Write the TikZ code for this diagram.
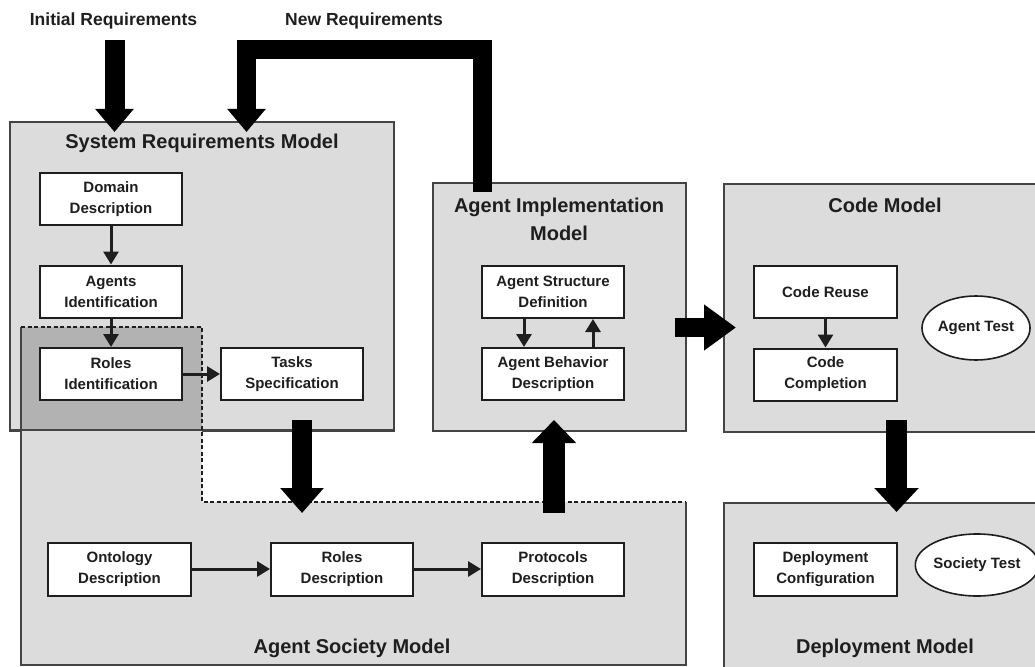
\documentclass[tikz,border=0pt]{standalone}
\usepackage{fontspec}
\setmainfont{Liberation Sans}
\usetikzlibrary{arrows.meta,shapes.geometric}
\definecolor{boxgray}{HTML}{DCDCDC}
\definecolor{overgray}{HTML}{B2B2B2}
\definecolor{edge}{HTML}{444444}
\definecolor{ink}{HTML}{1E1E1E}
\begin{document}
\begin{tikzpicture}[x=1pt,y=-1pt,
  container/.style={draw=edge, line width=2pt, fill=boxgray, inner sep=0pt},
  task/.style={draw=ink, line width=2pt, fill=white, minimum width=142pt, minimum height=52pt,
    inner sep=0pt, align=center, font=\bfseries\fontsize{15}{21}\selectfont, text=ink},
  test/.style={ellipse, draw=ink, line width=1.6pt, fill=white, minimum width=100pt,
    minimum height=64pt, inner sep=0pt, align=center, font=\bfseries\fontsize{15}{21}\selectfont, text=ink},
  title/.style={font=\bfseries\fontsize{20}{28}\selectfont, text=ink, align=center},
  toplabel/.style={font=\bfseries\fontsize{17.5}{21}\selectfont, text=ink},
  flow/.style={line width=3pt, draw=ink, -{Triangle[width=15pt,length=13pt]}},
  bigflow/.style={line width=20pt, draw=black, line join=miter, -{Triangle[width=40pt,length=24pt]}},
  dashedge/.style={draw=ink, line width=2.4pt, dash pattern=on 4pt off 2.5pt}
]
\useasboundingbox (0,0) rectangle (1035,666);

% ---- containers ----
\node[container, minimum width=384pt, minimum height=309pt] (srm) at (202,276.5) {};
\node[container, minimum width=253pt, minimum height=248pt] (aim) at (559.5,307) {};
\node[container, minimum width=330pt, minimum height=248pt, anchor=north west] (code) at (723,183) {};
\node[container, minimum width=330pt, minimum height=175pt, anchor=north west] (dep) at (723,502) {};

% agent society model (overlapping region)
\fill[boxgray] (21,327) -- (202,327) -- (202,502) -- (686,502) -- (686,665) -- (21,665) -- cycle;
\fill[overgray] (21,327) rectangle (202,430);
\draw[edge, line width=2pt] (10,430) -- (394,430);
\draw[edge, line width=2pt] (21,327) -- (21,665) -- (686,665) -- (686,502);
\draw[dashedge] (21,327) -- (202,327) -- (202,502) -- (686,502);

% ---- titles ----
\node[toplabel] (initreq) at (113.5,21) {Initial Requirements};
\node[toplabel] (newreq) at (364,21) {New Requirements};
\node[title] at (202,143) {System Requirements Model};
\node[title] at (559,219) {Agent Implementation\\Model};
\node[title] at (885,205) {Code Model};
\node[title] at (885,648) {Deployment Model};
\node[title] at (352,648) {Agent Society Model};

% ---- activities ----
\node[task] (dom) at (111,199) {Domain\\Description};
\node[task] (agi) at (111,291.5) {Agents\\Identification};
\node[task] (rli) at (111,374) {Roles\\Identification};
\node[task] (tsk) at (292,374) {Tasks\\Specification};
\node[task, minimum width=143pt, minimum height=53pt] (ont) at (119.5,569) {Ontology\\Description};
\node[task, minimum width=142pt, minimum height=53pt] (rld) at (342,569) {Roles\\Description};
\node[task, minimum width=142pt, minimum height=53pt] (prt) at (553,569) {Protocols\\Description};
\node[task] (asd) at (553,292) {Agent Structure\\Definition};
\node[task] (abd) at (553,374) {Agent Behavior\\Description};
\node[task, minimum width=143pt] (cre) at (825.5,292) {Code Reuse};
\node[task, minimum width=143pt] (cco) at (825.5,374.5) {Code\\Completion};
\node[task, minimum width=143pt, minimum height=53pt] (dcf) at (825.5,569.5) {Deployment\\Configuration};
\node[test] (atest) at (976,328) {Agent Test};
\node[test, minimum width=102pt, minimum height=62pt] (stest) at (977,565) {Society Test};

% ---- small connectors ----
\draw[flow] (dom.south) -- (agi.north);
\draw[flow] (agi.south) -- (rli.north);
\draw[flow] (rli.east) -- (tsk.west);
\draw[flow] (ont.east) -- (rld.west);
\draw[flow] (rld.east) -- (prt.west);
\draw[flow] (asd.south -| 524,0) -- (abd.north -| 524,0);
\draw[flow] (abd.north -| 593,0) -- (asd.south -| 593,0);
\draw[flow] (cre.south) -- (cco.north);

% ---- big connectors ----
\coordinate (ir0) at (114.5,40);
\coordinate (ir1) at (114.5,132);
\draw[bigflow, line width=20pt, -{Triangle[width=37pt,length=23pt]}] (ir0) -- (ir1);

\coordinate (nr0) at (482.5,192);
\coordinate (nr1) at (246.5,132);
\draw[bigflow, line width=19pt, -{Triangle[width=37pt,length=23pt]}] (nr0) -- (482.5,50) -- (246.5,50) -- (nr1);

\coordinate (ts0) at (302,420);
\coordinate (ts1) at (302,513);
\draw[bigflow, -{Triangle[width=42pt,length=25pt]}] (ts0) -- (ts1);

\coordinate (up0) at (554,513);
\coordinate (up1) at (554,420);
\draw[bigflow, line width=22pt, -{Triangle[width=43pt,length=23pt]}] (up0) -- (up1);

\coordinate (rt0) at (675,327.5);
\coordinate (rt1) at (736,327.5);
\draw[bigflow, line width=19pt, -{Triangle[width=44pt,length=32pt]}] (rt0) -- (rt1);

\coordinate (cd0) at (896.5,420);
\coordinate (cd1) at (896.5,512);
\draw[bigflow, line width=21pt, -{Triangle[width=43pt,length=24pt]}] (cd0) -- (cd1);
\end{tikzpicture}
\end{document}
